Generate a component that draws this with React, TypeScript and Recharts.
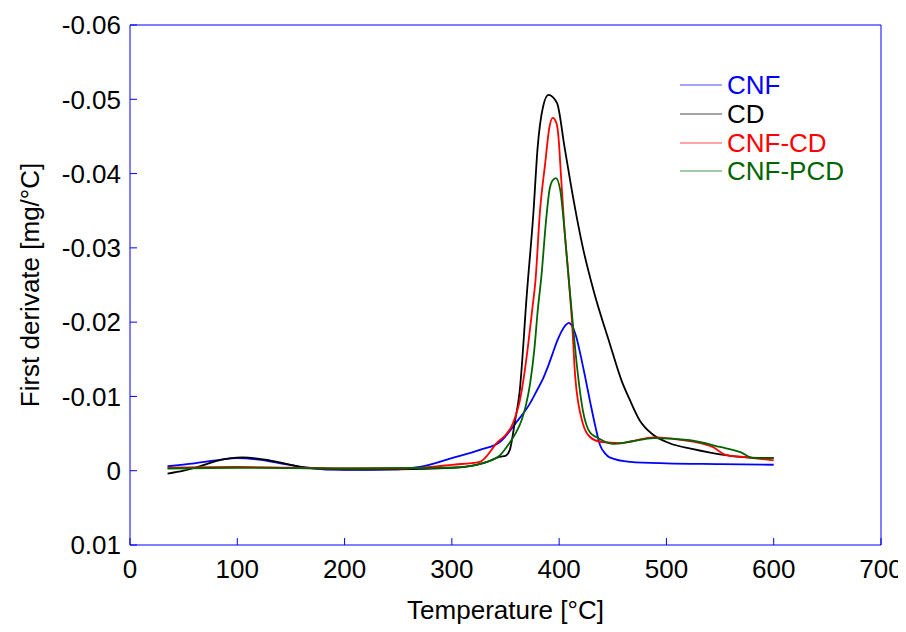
import { Legend, Line, LineChart, XAxis, YAxis } from "recharts";

// temperature [°C] and first derivative [mg/°C]
const cnfT = [35, 60, 80, 100, 120, 140, 165, 200, 250, 270, 300, 326, 345, 360, 373, 380, 385, 389, 394, 398, 402, 406, 409, 412, 416, 419, 424, 429, 434, 438, 443, 447, 466, 500, 550, 600];
const cnfV = [-0.0006, -0.001, -0.0014, -0.0017, -0.0015, -0.001, -0.0004, -0.0001, -0.0002, -0.0005, -0.0017, -0.0028, -0.0039, -0.0065, -0.0091, -0.011, -0.0124, -0.0138, -0.0158, -0.0174, -0.0187, -0.0196, -0.0199, -0.0195, -0.018, -0.0162, -0.0128, -0.0092, -0.0058, -0.0035, -0.0023, -0.0018, -0.0012, -0.001, -0.0009, -0.0008];

const cdT = [35, 50, 65, 80, 105, 130, 150, 165, 200, 250, 300, 323, 333, 345, 350, 354, 359, 363, 370, 376, 380, 385, 390, 398, 405, 413, 422, 432, 447, 458, 466, 475, 488, 503, 525, 550, 575, 600];
const cdV = [0.0004, 0.0, -0.0006, -0.0013, -0.0018, -0.0014, -0.0008, -0.0004, -0.0002, -0.0002, -0.0004, -0.0008, -0.0012, -0.0019, -0.002, -0.0028, -0.0068, -0.0104, -0.024, -0.0347, -0.0436, -0.049, -0.0506, -0.0495, -0.0436, -0.0368, -0.0301, -0.0243, -0.0172, -0.0122, -0.0095, -0.0068, -0.0048, -0.0037, -0.0029, -0.0022, -0.0018, -0.0017];

const cnfCdT = [35, 100, 200, 250, 280, 300, 326, 343, 350, 355, 359, 363, 367, 371, 375, 378, 382, 387, 391, 394, 397, 399, 402, 405, 409, 412, 415, 422, 429, 438, 457, 469, 488, 506, 525, 543, 556, 575, 600];
const cnfCdV = [-0.0004, -0.0005, -0.0003, -0.0003, -0.0005, -0.0008, -0.0012, -0.0039, -0.0048, -0.0058, -0.0072, -0.0092, -0.0125, -0.0168, -0.0218, -0.0257, -0.0347, -0.0414, -0.0463, -0.0475, -0.047, -0.0455, -0.0391, -0.0324, -0.0257, -0.02, -0.0126, -0.0064, -0.0045, -0.0039, -0.0037, -0.004, -0.0045, -0.0043, -0.0039, -0.0032, -0.0021, -0.0018, -0.0014];

const cnfPcdT = [35, 100, 200, 300, 323, 333, 345, 354, 360, 365, 369, 373, 377, 380, 384, 387, 391, 394, 397, 401, 405, 409, 412, 416, 422, 429, 435, 450, 466, 488, 522, 550, 569, 581, 600];
const cnfPcdV = [-0.0003, -0.0004, -0.0003, -0.0004, -0.0008, -0.0012, -0.0021, -0.0038, -0.0052, -0.0068, -0.0088, -0.0118, -0.0165, -0.0215, -0.027, -0.0324, -0.0378, -0.0391, -0.0394, -0.0378, -0.0324, -0.0257, -0.021, -0.0149, -0.0082, -0.0051, -0.0045, -0.0036, -0.0039, -0.0044, -0.0041, -0.0032, -0.0025, -0.0017, -0.0017];

const xTicks = [0, 100, 200, 300, 400, 500, 600, 700];
const yTicks = [-0.06, -0.05, -0.04, -0.03, -0.02, -0.01, 0, 0.01];

const toPoints = (t: number[], v: number[]) => t.map((x, i) => ({ t: x, v: v[i] }));

const series = [
  { name: "CNF", color: "#0000ff", data: toPoints(cnfT, cnfV) },
  { name: "CD", color: "#000000", data: toPoints(cdT, cdV) },
  { name: "CNF-CD", color: "#ff0000", data: toPoints(cnfCdT, cnfCdV) },
  { name: "CNF-PCD", color: "#006400", data: toPoints(cnfPcdT, cnfPcdV) },
];

const axisBlue = "#0000ff";
const font = "'Liberation Sans', Arial, sans-serif";

const fmtY = (v: number) => {
  const r = Math.round(v * 100) / 100;
  return r === 0 ? "0" : String(r);
};

function LegendBox() {
  return (
    <div style={{ fontFamily: font, fontSize: 26 }}>
      {series.map((s) => (
        <div key={s.name} style={{ display: "flex", alignItems: "center", height: 28.7 }}>
          <svg width={47} height={10}>
            <line x1={0} y1={5} x2={42} y2={5} stroke={s.color} strokeWidth={1.2} strokeOpacity={0.7} />
          </svg>
          <span style={{ color: s.color, lineHeight: 1 }}>{s.name}</span>
        </div>
      ))}
    </div>
  );
}

export default function App() {
  // cancel the body margin so the chart fills the whole 906x632 page
  return (
    <div style={{ margin: -8, width: 906, height: 632, fontFamily: font }}>
      <LineChart width={906} height={632} margin={{ top: 15, right: 15, bottom: 0, left: 0 }}>
        <XAxis
          xAxisId="bottom"
          dataKey="t"
          type="number"
          domain={[0, 700]}
          ticks={xTicks}
          allowDataOverflow
          height={87}
          stroke={axisBlue}
          tickSize={-7}
          tickMargin={22}
          tick={{ fill: "#000", fontSize: 26, fontFamily: font }}
          label={{ value: "Temperature [°C]", position: "insideBottom", offset: 13, fill: "#000", fontSize: 26, fontFamily: font }}
        />
        <XAxis
          xAxisId="top"
          orientation="top"
          dataKey="t"
          type="number"
          domain={[0, 700]}
          ticks={xTicks}
          height={10}
          stroke={axisBlue}
          tickSize={-7}
          tick={false}
        />
        <YAxis
          yAxisId="left"
          type="number"
          domain={[-0.06, 0.01]}
          ticks={yTicks}
          reversed
          allowDataOverflow
          width={130}
          stroke={axisBlue}
          tickSize={-7}
          tickMargin={16}
          tickFormatter={fmtY}
          tick={{ fill: "#000", fontSize: 26, fontFamily: font }}
          label={{
            value: "First derivate [mg/°C]",
            angle: -90,
            position: "insideLeft",
            offset: 30,
            fill: "#000",
            fontSize: 26,
            fontFamily: font,
            style: { textAnchor: "middle" },
          }}
        />
        <YAxis
          yAxisId="right"
          orientation="right"
          type="number"
          domain={[-0.06, 0.01]}
          ticks={yTicks}
          reversed
          width={10}
          stroke={axisBlue}
          tickSize={-7}
          tick={false}
        />
        <Legend
          layout="vertical"
          align="center"
          verticalAlign="middle"
          content={() => <LegendBox />}
          wrapperStyle={{ left: 680, top: 71, width: 200, height: 120 }}
        />
        {series.map((s) => (
          <Line
            key={s.name}
            xAxisId="bottom"
            yAxisId="left"
            data={s.data}
            dataKey="v"
            name={s.name}
            type="monotone"
            stroke={s.color}
            strokeWidth={1.8}
            dot={false}
            isAnimationActive={false}
          />
        ))}
      </LineChart>
    </div>
  );
}
